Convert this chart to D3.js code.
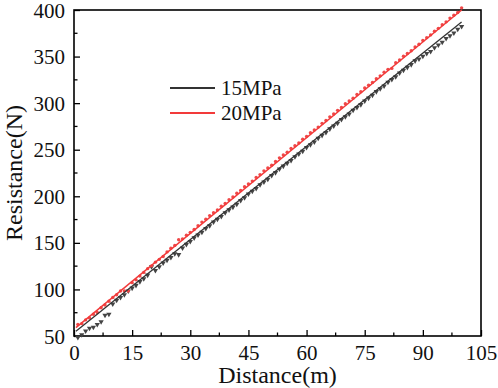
<!DOCTYPE html>
<html>
<head>
<meta charset="utf-8">
<script src="https://cdn.jsdelivr.net/npm/d3@7"></script>
<style>
  body { margin: 0; background: #fff; }
  #chart, #chart text { font-family: 'Liberation Serif', serif !important; }
</style>
</head>
<body>
<svg id="chart" width="498" height="388"></svg>
<script>
// distance (m) for every measurement
const distance = d3.range(1, 101);
const res15 = [50, 53, 57, 60, 61, 64, 67, 74, 75, 86,
  90, 93, 96, 100, 103, 106, 110, 113, 117, 126,
  122, 126, 130, 133, 136, 140, 139, 146, 150, 153,
  157, 160, 163, 167, 170, 174, 177, 180, 184, 187,
  190, 193, 197, 200, 204, 207, 210, 214, 217, 220,
  224, 227, 231, 234, 237, 240, 244, 247, 250, 254,
  257, 260, 264, 267, 270, 274, 277, 280, 284, 287,
  290, 294, 297, 300, 304, 307, 310, 314, 317, 320,
  324, 327, 330, 334, 337, 340, 343, 347, 349, 352,
  355, 357, 361, 364, 367, 371, 374, 377, 381, 384];
const res20 = [61, 62, 66, 68, 72, 74, 79, 82, 86, 90,
  93, 97, 97, 97, 106, 109, 113, 117, 121, 124,
  128, 131, 134, 139, 143, 146, 152, 153, 157, 160,
  163, 167, 171, 174, 178, 181, 184, 188, 191, 195,
  198, 202, 205, 209, 212, 215, 219, 222, 226, 229,
  232, 236, 240, 243, 246, 250, 253, 256, 260, 263,
  267, 270, 273, 277, 280, 284, 287, 291, 294, 298,
  301, 304, 308, 311, 315, 318, 321, 325, 328, 332,
  335, 336, 342, 345, 349, 352, 355, 359, 362, 366,
  369, 372, 376, 379, 383, 386, 390, 393, 396, 401];
// linear fits, endpoints
const fitX = [0.5, 100];
const fit15 = [55, 387];
const fit20 = [59, 400];
const xTicks = [0, 15, 30, 45, 60, 75, 90, 105];
const yTicks = [50, 100, 150, 200, 250, 300, 350, 400];
const seriesNames = ['15MPa', '20MPa'];
const colors = ['#333', '#f23a3a'];

const svg = d3.select('#chart');
const margins = { top: 10, right: 17, bottom: 52, left: 74 };
const width = 498 - margins.left - margins.right;
const height = 388 - margins.top - margins.bottom;

const g = svg.append('g').attr('transform', 'translate(' + margins.left + ',' + margins.top + ')');

const x = d3.scaleLinear().domain([0, 105]).range([0, width]);
const y = d3.scaleLinear().domain([50, 400]).range([height, 0]);

// minor ticks
const xMinor = d3.range(7.5, 105, 15);
const yMinor = d3.range(75, 400, 50);
g.selectAll('.xminor').data(xMinor).enter().append('line')
  .attr('x1', d => x(d)).attr('x2', d => x(d)).attr('y1', height).attr('y2', height - 3.5)
  .attr('stroke', '#000').attr('stroke-width', 1.3);
g.selectAll('.yminor').data(yMinor).enter().append('line')
  .attr('x1', 0).attr('x2', 3.5).attr('y1', d => y(d)).attr('y2', d => y(d))
  .attr('stroke', '#000').attr('stroke-width', 1.3);

const xAxis = d3.axisBottom(x).tickValues(xTicks).tickSizeInner(-6).tickSizeOuter(0).tickPadding(12);
const yAxis = d3.axisLeft(y).tickValues(yTicks).tickSizeInner(-6).tickSizeOuter(0).tickPadding(9);

const gx = g.append('g').attr('transform', 'translate(0,' + height + ')').call(xAxis);
const gy = g.append('g').call(yAxis);
[gx, gy].forEach(a => {
  a.attr('font-size', 21);
  a.select('.domain').remove();
  a.selectAll('line').attr('stroke', '#000').attr('stroke-width', 1.3);
  a.selectAll('text').attr('fill', '#111');
});
gx.selectAll('text').attr('dy', '0.58em');
gy.selectAll('text').attr('dy', '0.34em');

// frame
g.append('rect').attr('width', width).attr('height', height)
  .attr('fill', 'none').attr('stroke', '#000').attr('stroke-width', 1.6);

// points
const tri = d3.symbol().type(d3.symbolTriangle).size(12);
g.append('g').selectAll('path').data(distance).enter().append('path')
  .attr('d', tri)
  .attr('transform', (d, i) => 'translate(' + x(d) + ',' + (y(res15[i]) + 1.5) + ') rotate(180)')
  .attr('fill', '#444');
g.append('g').selectAll('circle').data(distance).enter().append('circle')
  .attr('cx', d => x(d)).attr('cy', (d, i) => y(res20[i]) - 1.2).attr('r', 1.7)
  .attr('fill', '#f04848');

// fit lines
const line = d3.line().x(d => x(d[0])).y(d => y(d[1]));
g.append('path').datum(fitX.map((v, i) => [v, fit15[i]]))
  .attr('d', line).attr('fill', 'none').attr('stroke', colors[0]).attr('stroke-width', 1.3);
g.append('path').datum(fitX.map((v, i) => [v, fit20[i]]))
  .attr('d', line).attr('fill', 'none').attr('stroke', colors[1]).attr('stroke-width', 1.5);

// legend
const legend = svg.append('g').attr('font-size', 21);
seriesNames.forEach((name, i) => {
  const ly = 88 + i * 25;
  legend.append('line').attr('x1', 170).attr('x2', 215).attr('y1', ly).attr('y2', ly)
    .attr('stroke', colors[i]).attr('stroke-width', 2);
  legend.append('text').attr('x', 221).attr('y', ly + 7).attr('fill', '#111').text(name);
});

// axis titles
const titles = svg.append('g').attr('font-size', 24).attr('fill', '#111');
titles.append('text').attr('x', margins.left + width / 2).attr('y', 383)
  .attr('text-anchor', 'middle').text('Distance(m)');
titles.append('text').attr('transform', 'translate(22,' + (margins.top + height / 2) + ') rotate(-90)')
  .attr('text-anchor', 'middle').text('Resistance(N)');
</script>
</body>
</html>
